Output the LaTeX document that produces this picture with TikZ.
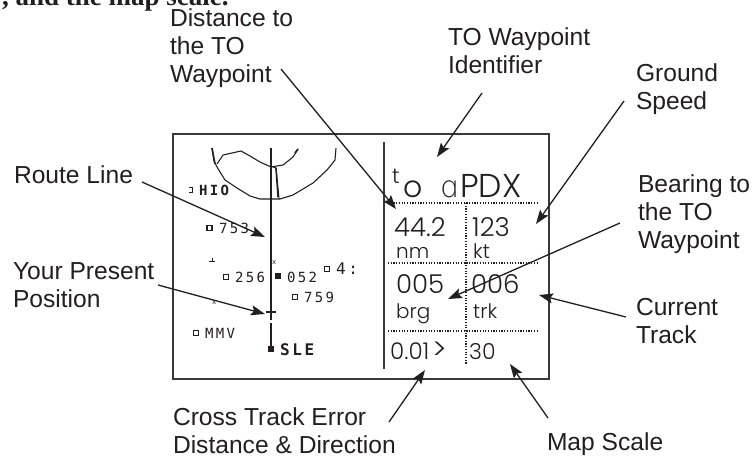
\documentclass[tikz,border=0pt]{standalone}
\usepackage{fontspec}
\usetikzlibrary{arrows.meta}
\setmainfont{Liberation Sans}
\newfontfamily\seriff{Liberation Serif}
\newfontfamily\panelf{Poppins Light}
\newfontfamily\alphaf{DejaVu Sans ExtraLight}
\newfontfamily\mapf[LetterSpace=16]{DejaVu Sans Mono}
\definecolor{ink}{HTML}{231F20}
\definecolor{frame}{HTML}{3A3839}
\tikzset{
  x=1pt,y=-1pt,
  lab/.style={anchor=base west,inner sep=0pt,outer sep=0pt,align=left,text=ink,font=\fontsize{24.6}{27.8}\selectfont},
  big/.style={anchor=base west,inner sep=0pt,text=ink,font=\panelf\fontsize{26}{26}\selectfont},
  unit/.style={anchor=base west,inner sep=0pt,text=ink,font=\panelf\fontsize{20}{20}\selectfont},
  mp/.style={anchor=west,inner sep=0pt,text=ink,font=\mapf\fontsize{14}{14}\selectfont},
  mpb/.style={anchor=west,inner sep=0pt,text=ink,font=\mapf\bfseries\fontsize{14}{14}\selectfont},
  sq/.style={draw=ink,line width=1.2pt,minimum size=5pt,inner sep=0pt},
  sqf/.style={fill=ink,minimum size=6pt,inner sep=0pt},
  callout/.style={draw=ink,line width=1.3pt,-{Stealth[length=14pt,width=10pt,inset=2.5pt]}},
  dots/.style={draw=ink,line width=1.2pt,dash pattern=on 1.2pt off 1.5pt},
  coast/.style={draw=ink,line width=1.1pt,line join=round},
}
\begin{document}
\begin{tikzpicture}
\useasboundingbox (0,0) rectangle (753,458);
\fill[white] (0,0) rectangle (753,458);
\node[anchor=base west,inner sep=0pt,text=ink,font=\seriff\bfseries\fontsize{27}{27}\selectfont] (intro) at (2,5) {, and the map scale.};
% display
\node[draw=frame,line width=1.5pt,anchor=north west,minimum width=376pt,minimum height=245pt,inner sep=0pt] (panel) at (172,133) {};
\draw[frame,line width=1.6pt] (384,142) -- (384,369);
\draw[dots] (388,203) -- (539,203);
\draw[dots] (388,263) -- (539,263);
\draw[dots] (388,331) -- (539,331);
\draw[dots] (466,203) -- (466,365);
% map
\draw[coast] (212,148) -- (214,161) -- (217,167);
\draw[coast] (217,164) -- (223,155) -- (241,151) -- (250,156) -- (260,162) -- (271,167) -- (283,165) -- (293,157) -- (298,149);
\draw[line width=1.6pt,ink] (212,148) -- (215,164);
\draw[line width=1.6pt,ink] (295,153) -- (298,149);
\draw[coast] (217,167) -- (225,180) -- (237,188) -- (250,196) -- (260,199) -- (280,199) -- (293,195) -- (313,183) -- (327,170) -- (335,160) -- (336,148);
\draw[coast] (273,167) -- (276,168) -- (279,199);
\draw[line width=1.5pt,ink] (276,168) -- (278,197);
\draw[ink,line width=2.6pt] (271,148) -- (271,307);
\draw[ink,line width=2.6pt] (271,323) -- (271,346);
\node[sqf] (slesq) at (271,349) {};
\draw[ink,line width=2.4pt] (271,307) -- (271,320);
\draw[ink,line width=2pt] (266,312) -- (276,312);
\draw[ink,line width=1pt] (189,187) -- (192,187) -- (192,192) -- (189,192);
\node[mpb] (hio) at (199,190) {HIO};
\node[sq] (s753) at (209.5,228) {}; \node[mp] (t753) at (219,228) {753};
\draw[ink,line width=1pt] (209,261) -- (215,261) (212,261) -- (212,258);
\node[mp,font=\mapf\fontsize{7}{7}\selectfont] (xa) at (212,303) {x};
\node[mp,font=\mapf\fontsize{7}{7}\selectfont] (xb) at (272,263) {x};
\node[sq] (s256) at (226,277) {}; \node[mp] (t256) at (235,277) {256};
\node[sqf] (s052) at (278,276) {}; \node[mp] (t052) at (287,277) {052};
\node[sq] (s4) at (327,269) {}; \node[mp,font=\mapf\fontsize{16}{16}\selectfont] (t4) at (336,269) {4:};
\node[sq] (s759) at (295,297) {}; \node[mp] (t759) at (304,297) {759};
\node[sq] (smmv) at (196,333) {}; \node[mp] (tmmv) at (205,333) {MMV};
\node[mpb,font=\mapf\bfseries\fontsize{16}{16}\selectfont] (sle) at (280,350) {SLE};
% data
\node[anchor=base west,inner sep=0pt,text=ink,font=\panelf\fontsize{21}{21}\selectfont] (tot) at (392,183) {t};
\node[anchor=base west,inner sep=0pt,text=ink,font=\panelf\fontsize{30}{30}\selectfont] (too) at (403,197) {o};
\node[anchor=base west,inner sep=0pt,text=ink,font=\alphaf\fontsize{30}{30}\selectfont] (wpa) at (439,197) {ɑ};
\node[anchor=base west,inner sep=0pt,text=ink,font=\panelf\fontsize{33}{33}\selectfont] (wpb) at (460,197) {PDX};
\node[big] (d442) at (394,236) {44.2};
\node[unit] (dnm) at (396,258) {nm};
\node[big] (d123) at (472,236) {123};
\node[unit] (dkt) at (473,258) {kt};
\node[big] (d005) at (396,293) {005};
\node[unit] (dbrg) at (396,318) {brg};
\node[big] (d006) at (471,293) {006};
\node[unit] (dtrk) at (473,318) {trk};
\node[big,font=\panelf\fontsize{23}{23}\selectfont] (dxte) at (390,359) {0.01\kern3pt{\fontsize{29}{29}\selectfont>}};
\node[big,font=\panelf\fontsize{22}{22}\selectfont] (dms) at (469,359) {30};
% labels
\node[lab] (ldist) at (170,82) {Distance to\\the TO\\Waypoint};
\node[lab] (lid) at (448,73) {TO Waypoint\\Identifier};
\node[lab] (lgs) at (636,109) {Ground\\Speed};
\node[lab] (lbrg) at (638,248) {Bearing to\\the TO\\Waypoint};
\node[lab] (ltrk) at (636,343) {Current\\Track};
\node[lab] (lms) at (547,450) {Map Scale};
\node[lab] (lxte) at (173,453) {Cross Track Error\\Distance \& Direction};
\node[lab] (lrl) at (14,183) {Route Line};
\node[lab] (lpos) at (13,307) {Your Present\\Position};
% connector ends
\coordinate (a1) at (281,69);  \coordinate (b1) at (396,209);
\coordinate (a2) at (482,93);  \coordinate (b2) at (437,157);
\coordinate (a3) at (624,101); \coordinate (b3) at (536,224);
\coordinate (a4) at (620,223); \coordinate (b4) at (448,299);
\coordinate (a5) at (626,317); \coordinate (b5) at (539,295);
\coordinate (a6) at (548,418); \coordinate (b6) at (510,364);
\coordinate (a7) at (389,422); \coordinate (b7) at (425,370);
\coordinate (a8) at (142,182); \coordinate (b8) at (265,237);
\coordinate (a9) at (158,285); \coordinate (b9) at (265,314);
\foreach \i in {1,...,9} \draw[callout] (a\i) -- (b\i);
\end{tikzpicture}
\end{document}
